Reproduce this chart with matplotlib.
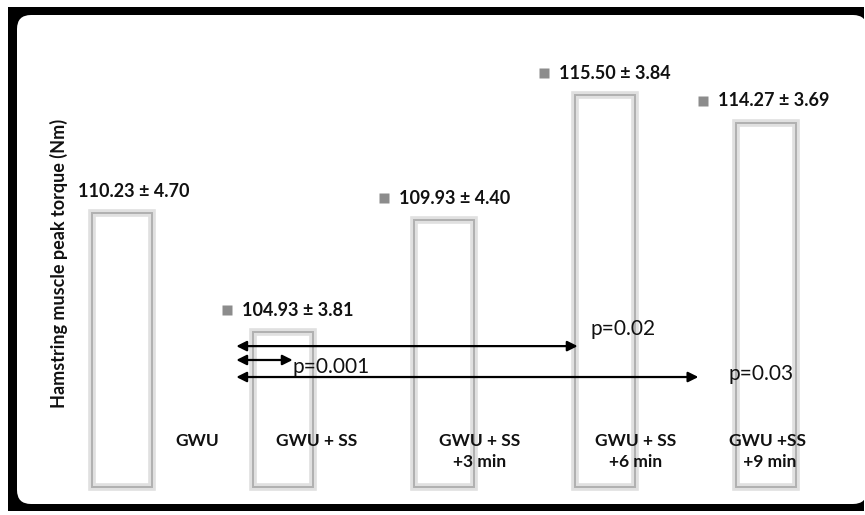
import matplotlib
matplotlib.use("Agg")
import matplotlib.pyplot as plt
from matplotlib.patches import FancyBboxPatch, Rectangle
import numpy as np

plt.rcParams['font.family'] = ['Lato', 'DejaVu Sans']

groups = ['GWU', 'GWU + SS', 'GWU + SS\n+3 min', 'GWU + SS\n+6 min', 'GWU +SS\n +9 min']
means = [110.23, 104.93, 109.93, 115.50, 114.27]
sds = [4.70, 3.81, 4.40, 3.84, 3.69]
# comparisons against GWU + SS: (target group, p text)
comparisons = [(3, 'p=0.02'), (1, 'p=0.001'), (4, 'p=0.03')]

base = 98.0
x = np.arange(len(means))
width = 0.37
px = 1 / 161  # one pixel in x units

fig = plt.figure(figsize=(8.65, 5.15), dpi=100)

# black frame with white rounded panel, in a background axes
bg = fig.add_axes([0, 0, 1, 1], zorder=0)
bg.set_xlim(0, 865)
bg.set_ylim(515, 0)
bg.axis('off')
bg.add_patch(Rectangle((8, 7), 856, 504, facecolor='black', edgecolor='none'))
bg.add_patch(FancyBboxPatch((17, 15), 850, 489, boxstyle='round,pad=0,rounding_size=14',
                            facecolor='white', edgecolor='none'))

ax = fig.add_axes([0, 0, 1, 1], zorder=1)
ax.set_xlim(-122/161, (865-122)/161)
ax.set_ylim(base - 28/22.4, base + 487/22.4)
ax.axis('off')
ax.patch.set_alpha(0)

heights = [m - base for m in means]
ax.bar(x, heights, width, bottom=base, facecolor='none', edgecolor='#e0e0e0', linewidth=5.5)
ax.bar(x, heights, width, bottom=base, facecolor='none', edgecolor='#b0b0b0', linewidth=1.4)

# value labels (offsets from the bar's left edge, in pixels)
text_off = [-14, -11, -15, -16, -18]
for i, (m, s) in enumerate(zip(means, sds)):
    lx = x[i] - width/2 + text_off[i] * px
    ly = m + 0.97
    if i > 0:
        ax.plot(lx - 15 * px, ly, 's', color='#8c8c8c', ms=6.5, mec='none')
    ax.text(lx, ly, f'{m:.2f} ± {s:.2f}', fontsize=13,
            fontweight='bold', ha='left', va='center', color='#111111')

# category labels
cat_x = [0.47, 1.21, 2.22, 3.19, 4.01]
for cx, g in zip(cat_x, groups):
    ax.text(cx, base + (487-433)/22.4, g, fontsize=12.5, fontweight='bold', ha='center',
            va='top', linespacing=1.4, color='#111111')

# p-value arrows from GWU + SS
arrow_y = [104.29, 103.67, 102.91]
arrow_end = [2.83, 1.06, 3.58]
text_pos = [(3.11, 105.05), (1.06, 103.36), (3.97, 103.04)]
for (tgt, ptxt), ay, ae, (tx, ty) in zip(comparisons, arrow_y, arrow_end, text_pos):
    ax.annotate('', xy=(ae, ay), xytext=(1 - 0.29, ay),
                arrowprops=dict(arrowstyle='<|-|>', color='black', lw=1.6,
                                mutation_scale=15, shrinkA=0, shrinkB=0))
    ax.text(tx, ty, ptxt, fontsize=15, ha='left' if tgt == 1 else 'center',
            va='center', color='#111111')

ax.text(-0.39, 108.0, 'Hamstring muscle peak torque (Nm)', rotation=90, fontsize=13,
        fontweight='bold', ha='center', va='center', color='#111111')

fig.savefig('out.png', dpi=100)
